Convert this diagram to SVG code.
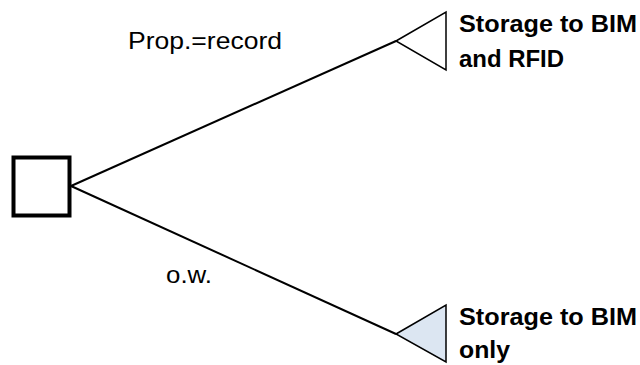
<svg xmlns="http://www.w3.org/2000/svg" width="640" height="365" viewBox="0 0 640 365">
<style>
.edge{stroke:#000;stroke-width:2;fill:none}
.lbl{font-family:"Liberation Sans",Arial,sans-serif;font-size:24px;fill:#000}
.bold{font-family:"Liberation Sans",Arial,sans-serif;font-size:24px;font-weight:bold;fill:#000}
.tri{stroke:#000;stroke-width:1.5}
</style>
<rect width="640" height="365" fill="#fff"/>
<g id="connectors">
<line class="edge" x1="71" y1="186" x2="396" y2="41"/>
<line class="edge" x1="71" y1="186" x2="396" y2="334"/>
</g>
<g id="decision">
<rect x="13.5" y="157.5" width="56" height="58" fill="#fff" stroke="#000" stroke-width="4"/>
</g>
<g id="outcome-top">
<polygon class="tri" points="396,41 446,12 446,70" fill="#fff"/>
<text class="bold" x="459" y="32" textLength="178" lengthAdjust="spacingAndGlyphs">Storage to BIM</text>
<text class="bold" x="459" y="67" textLength="105" lengthAdjust="spacingAndGlyphs">and RFID</text>
</g>
<g id="outcome-bottom">
<polygon class="tri" points="396,334 446,305 446,362" fill="#dce6f2"/>
<text class="bold" x="459" y="325" textLength="178" lengthAdjust="spacingAndGlyphs">Storage to BIM</text>
<text class="bold" x="459" y="358" textLength="51" lengthAdjust="spacingAndGlyphs">only</text>
</g>
<g id="labels">
<text class="lbl" x="128" y="49" textLength="154" lengthAdjust="spacingAndGlyphs">Prop.=record</text>
<text class="lbl" x="166" y="283" textLength="46" lengthAdjust="spacingAndGlyphs">o.w.</text>
</g>
</svg>
